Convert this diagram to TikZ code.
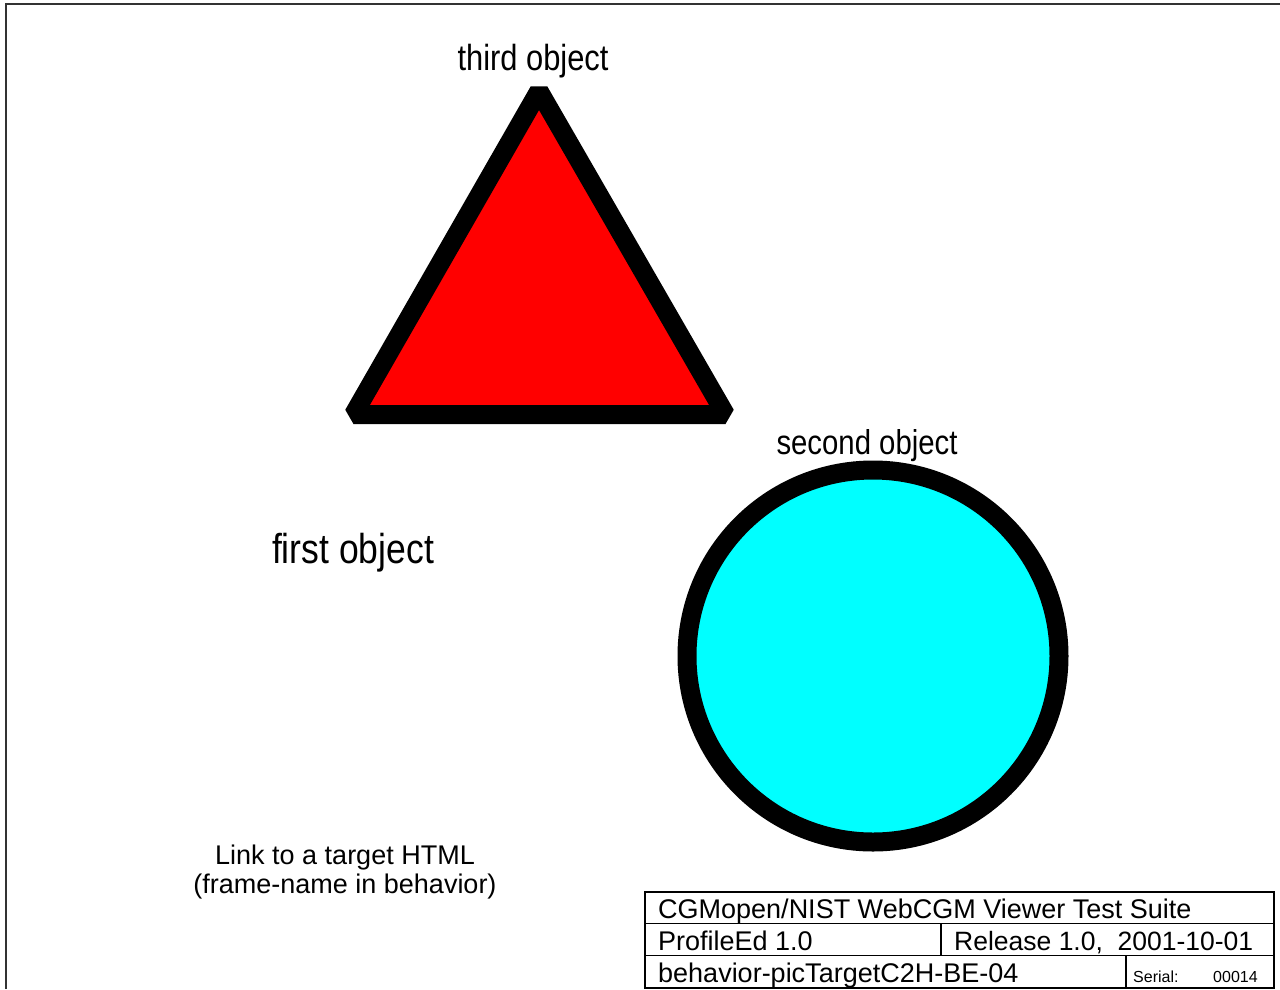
\documentclass[tikz,border=0pt]{standalone}
\usepackage{fontspec}
\setmainfont{Liberation Sans}
\newfontfamily\narrowfont[FakeStretch=0.85]{Liberation Sans}
\usetikzlibrary{positioning}
\definecolor{objcyan}{RGB}{0,255,255}
\definecolor{objred}{RGB}{255,0,0}

\tikzset{
  objlabel/.style={anchor=base, inner sep=0pt, font=\narrowfont},
  tabletext/.style={anchor=base west, inner sep=0pt, font=\fontsize{27}{30}\selectfont},
  thickline/.style={line width=19pt, line join=bevel},
}

\begin{document}
\begin{tikzpicture}[x=1pt, y=-1pt]
    \useasboundingbox (0,0) rectangle (1280,989);

    % frame
    \draw[line width=1.5pt, black!80] (6,989) -- (6,4) -- (1280,4);

    % third object
    \coordinate (t1) at (539,91);
    \coordinate (t2) at (353.5,414.5);
    \coordinate (t3) at (725.5,414.5);
    \filldraw[thickline, fill=objred] (t1) -- (t2) -- (t3) -- cycle;
    \node[objlabel, font=\narrowfont\fontsize{36.3}{40}\selectfont] (third) at (533,70) {third object};

    % second object
    \coordinate (c) at (873,656);
    \filldraw[thickline, fill=objcyan] (c) circle[radius=186];
    \node[objlabel, font=\narrowfont\fontsize{34.5}{40}\selectfont] (second) at (867,454) {second object};

    % first object
    \node[objlabel, font=\narrowfont\fontsize{41.8}{44}\selectfont] (first) at (353,563) {first object};

    \node[anchor=base, inner sep=0pt, font=\fontsize{27}{30}\selectfont] (link1) at (345,864) {Link to a target HTML};
    \node[anchor=base, inner sep=0pt, font=\fontsize{27}{30}\selectfont] (link2) at (345,893) {(frame-name in behavior)};

    % title block
    \draw[line width=1.2pt] (645,892) rectangle (1274,988);
    \draw[line width=1.2pt] (645,923.5) -- (1274,923.5);
    \draw[line width=1.2pt] (645,955.5) -- (1274,955.5);
    \draw[line width=1.2pt] (941,923.5) -- (941,955.5);
    \draw[line width=1.2pt] (1126,955.5) -- (1126,988);
    \node[tabletext] (suite) at (658,918) {CGMopen/NIST WebCGM Viewer Test Suite};
    \node[tabletext] (profile) at (658,950) {ProfileEd 1.0};
    \node[tabletext, font=\fontsize{26.5}{30}\selectfont] (release) at (954,950) {Release 1.0,\ \ 2001-10-01};
    \node[tabletext] (testname) at (658,982) {behavior-picTargetC2H-BE-04};
    \node[tabletext, font=\fontsize{16}{18}\selectfont] (serial) at (1133,982) {Serial:};
    \node[tabletext, font=\fontsize{16}{18}\selectfont] (serialno) at (1213,982) {00014};
\end{tikzpicture}
\end{document}
